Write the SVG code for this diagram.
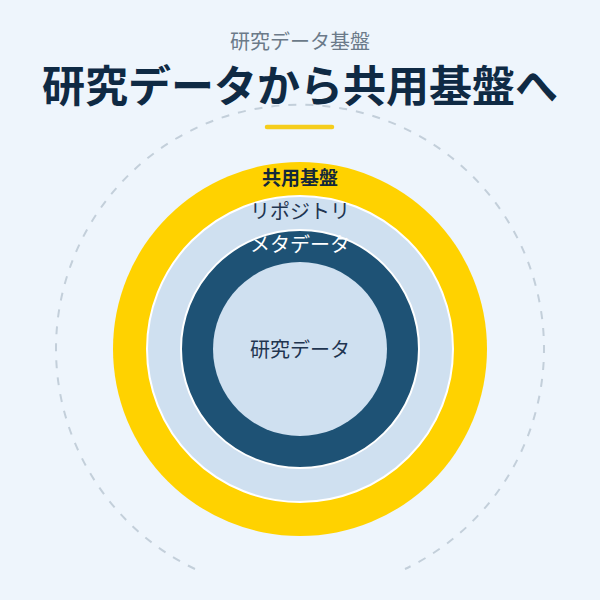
<svg xmlns="http://www.w3.org/2000/svg" width="600" height="600" viewBox="0 0 600 600">
<style>
text{font-family:"Noto Sans CJK JP","Noto Sans",sans-serif;text-anchor:middle;dominant-baseline:central}
.sub{font-size:20px;fill:#6b7a89}
.title{font-size:43px;font-weight:700;fill:#0f2a44}
.lbl{font-size:20px}
</style>
<rect width="600" height="600" fill="#eef5fc"/>
<text class="sub" x="300" y="40">研究データ基盤</text>
<text class="title" x="300" y="83">研究データから共用基盤へ</text>
<line x1="267" y1="127" x2="332" y2="127" stroke="#f5cd1c" stroke-width="4.5" stroke-linecap="round"/>
<g id="connectors">
<path d="M195,569 A244,244 0 1 1 405,569" fill="none" stroke="#c3cfda" stroke-width="2" stroke-dasharray="8,9"/>
</g>
<g id="kyoyo">
<circle cx="300" cy="349" r="187" fill="#ffd200"/>
<text class="lbl" x="300" y="176" font-weight="700" fill="#14283a" style="font-size:19px">共用基盤</text>
</g>
<g id="repository">
<circle cx="300" cy="349" r="153" fill="#cfe0f0" stroke="#ffffff" stroke-width="2"/>
<text class="lbl" x="300" y="210" fill="#1f3550">リポジトリ</text>
</g>
<g id="metadata">
<circle cx="300" cy="349" r="119" fill="#1e5275" stroke="#ffffff" stroke-width="2"/>
<text class="lbl" x="300" y="243" fill="#ffffff">メタデータ</text>
</g>
<g id="data">
<circle cx="300" cy="349" r="87" fill="#cfe0f0"/>
<text class="lbl" x="300" y="348" fill="#1f3550">研究データ</text>
</g>
</svg>
